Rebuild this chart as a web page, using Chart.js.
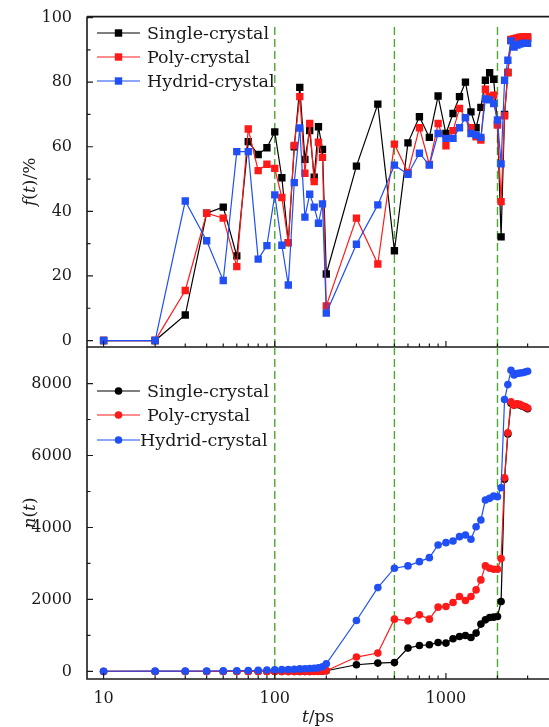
<!DOCTYPE html>
<html>
<head>
<meta charset="utf-8">
<script src="https://cdn.jsdelivr.net/npm/chart.js@4"></script>
<style>
html, body { margin: 0; padding: 0; background: #fff; }
#wrap { position: relative; width: 549px; height: 727px; }
canvas { position: absolute; left: 0; top: 0; }
</style>
</head>
<body>
<div id="wrap">
    <canvas id="topChart" width="549" height="727"></canvas>
    <canvas id="bottomChart" width="549" height="727"></canvas>
</div>
<script>
// ---- data ----
const times = [10, 20, 30, 40, 50, 60, 70, 80, 90, 100,
    110, 120, 130, 140, 150, 160, 170, 180, 190, 200,
    300, 400, 500, 600, 700, 800, 900, 1000,
    1100, 1200, 1300, 1400, 1500, 1600, 1700, 1800, 1900, 2000,
    2100, 2200, 2300, 2400, 2500, 2600, 2700, 2800, 2900, 3000];

// f(t) / %
const fSingle = [0, 0, 7.9, 39.4, 41.3, 26.2, 61.6, 57.6, 59.7, 64.6,
    50.4, 30.3, 60.0, 78.4, 56.1, 65.0, 50.6, 66.2, 59.2, 20.6,
    54.0, 73.2, 27.8, 61.2, 69.3, 62.9, 75.7, 64.1,
    70.3, 75.5, 80.0, 70.8, 65.9, 72.2, 80.6, 82.9, 80.9, 67.0,
    32.1, 70.0, 83.0, 93.0, 93.0, 93.2, 93.4, 93.5, 93.6, 93.6];
const fPoly = [0, 0, 15.5, 39.4, 37.9, 22.9, 65.5, 52.6, 54.6, 53.3,
    44.3, 30.3, 60.4, 75.5, 51.8, 67.2, 49.2, 61.4, 56.7, 10.7,
    37.9, 23.7, 60.8, 52.0, 65.9, 54.5, 67.2, 60.3,
    65.0, 71.9, 69.0, 65.9, 63.1, 62.1, 77.8, 75.5, 76.0, 66.7,
    43.0, 69.6, 83.0, 93.2, 93.5, 93.7, 93.9, 94.0, 94.1, 94.1];
const fHybrid = [0, 0, 43.2, 30.9, 18.6, 58.5, 58.5, 25.2, 29.4, 45.1,
    29.5, 17.2, 48.9, 65.8, 38.2, 45.3, 41.3, 36.3, 42.3, 8.5,
    29.8, 42.0, 54.3, 51.5, 58.0, 54.3, 64.1, 62.6,
    62.6, 65.9, 69.0, 64.1, 63.6, 62.9, 74.8, 74.5, 73.4, 68.3,
    54.7, 80.6, 86.8, 92.8, 90.9, 91.5, 91.8, 92.0, 92.0, 92.0];

// n(t)
const nSingle = [0, 0, 0, 0, 0, 0, 0, 0, 0, 0,
    0, 0, 0, 0, 0, 0, 5, 5, 10, 20,
    186, 232, 250, 649, 721, 740, 805, 787,
    907, 971, 999, 943, 1065, 1315, 1434, 1498, 1509, 1526,
    1942, 5340, 6600, 7450, 7400, 7420, 7400, 7370, 7340, 7300];
const nPoly = [0, 0, 0, 0, 0, 0, 0, 0, 0, 0,
    0, 0, 0, 0, 0, 0, 0, 0, 5, 20,
    400, 510, 1453, 1406, 1573, 1453, 1786, 1803,
    1914, 2081, 1970, 2081, 2266, 2544, 2932, 2868, 2840, 2840,
    3135, 5381, 6630, 7490, 7400, 7440, 7420, 7380, 7360, 7320];
const nHybrid = [5, 8, 10, 12, 15, 20, 25, 30, 40, 45,
    50, 55, 60, 70, 75, 80, 90, 100, 130, 213,
    1415, 2330, 2868, 2932, 3051, 3162, 3514, 3578,
    3625, 3745, 3792, 3672, 4022, 4208, 4763, 4810, 4874, 4855,
    5104, 7556, 7970, 8370, 8240, 8280, 8290, 8300, 8320, 8340];

const seriesNames = ['Single-crystal', 'Poly-crystal', 'Hydrid-crystal'];
const seriesColors = ['#000000', '#ff1a1a', '#1f4ff5'];

const xMajorTicks = [10, 100, 1000];
const xMinorTicks = [20, 30, 40, 50, 60, 70, 80, 90, 200, 300, 400, 500, 600, 700, 800, 900, 2000, 3000];
const fMajorTicks = [0, 20, 40, 60, 80, 100];
const fMinorTicks = [10, 30, 50, 70, 90];
const nMajorTicks = [0, 2000, 4000, 6000, 8000];
const nMinorTicks = [1000, 3000, 5000, 7000];
const markTimes = [100, 500, 2000];

const FONT = "'DejaVu Serif', serif";
const AXIS_COLOR = '#1a1a1a';

// draw text made of upright / italic pieces, centred on (0,0)
function drawRichText(ctx, parts, size) {
    let total = 0;
    parts.forEach(p => {
        ctx.font = (p[1] ? 'italic ' : '') + size + 'px ' + FONT;
        total += ctx.measureText(p[0]).width;
    });
    let x = -total / 2;
    ctx.textBaseline = 'middle';
    ctx.textAlign = 'left';
    parts.forEach(p => {
        ctx.font = (p[1] ? 'italic ' : '') + size + 'px ' + FONT;
        ctx.fillText(p[0], x, 0);
        x += ctx.measureText(p[0]).width;
    });
}

// green dashed markers at 100, 500, 2000 ps
const markLinePlugin = {
    id: 'markLines',
    beforeDatasetsDraw(chart, args, opts) {
        const ctx = chart.ctx;
        const area = chart.chartArea;
        const xs = chart.scales.x;
        ctx.save();
        ctx.strokeStyle = '#4ea832';
        ctx.lineWidth = 1.4;
        ctx.setLineDash([8, 4]);
        markTimes.forEach(t => {
            const x = xs.getPixelForValue(t);
            ctx.beginPath();
            ctx.moveTo(x, area.bottom);
            ctx.lineTo(x, area.top + opts.startGap);
            ctx.stroke();
        });
        ctx.restore();
    }
};

// frame, inward ticks, legend and axis titles
const framePlugin = {
    id: 'frame',
    afterDraw(chart, args, opts) {
        const ctx = chart.ctx;
        const area = chart.chartArea;
        const xs = chart.scales.x;
        const ys = chart.scales.y;
        ctx.save();

        ctx.strokeStyle = AXIS_COLOR;
        ctx.lineWidth = 1.2;
        ctx.beginPath();
        opts.yMajor.forEach(v => {
            const y = ys.getPixelForValue(v);
            ctx.moveTo(area.left, y); ctx.lineTo(area.left + 6, y);
        });
        opts.yMinor.forEach(v => {
            const y = ys.getPixelForValue(v);
            ctx.moveTo(area.left, y); ctx.lineTo(area.left + 3.5, y);
        });
        xMajorTicks.forEach(v => {
            const x = xs.getPixelForValue(v);
            ctx.moveTo(x, area.bottom); ctx.lineTo(x, area.bottom - 6);
        });
        xMinorTicks.forEach(v => {
            const x = xs.getPixelForValue(v);
            ctx.moveTo(x, area.bottom); ctx.lineTo(x, area.bottom - 3.5);
        });
        ctx.stroke();

        ctx.lineWidth = 1.6;
        ctx.beginPath();
        ctx.moveTo(area.left, area.top);
        ctx.lineTo(area.left, area.bottom);
        ctx.lineTo(area.right, area.bottom);
        if (opts.drawTop) {
            ctx.moveTo(area.left, area.top);
            ctx.lineTo(area.right, area.top);
        }
        ctx.stroke();

        // legend
        opts.legendRows.forEach((row, i) => {
            const color = seriesColors[i];
            ctx.strokeStyle = color;
            ctx.fillStyle = color;
            ctx.lineWidth = 1.2;
            ctx.beginPath();
            ctx.moveTo(97, row.y); ctx.lineTo(140, row.y);
            ctx.stroke();
            if (opts.marker === 'rect') {
                ctx.fillRect(118.5 - 3.7, row.y - 3.7, 7.4, 7.4);
            } else {
                ctx.beginPath();
                ctx.arc(118.5, row.y, 3.8, 0, Math.PI * 2);
                ctx.fill();
            }
            ctx.fillStyle = '#1a1a1a';
            ctx.font = '17.5px ' + FONT;
            ctx.textAlign = 'left';
            ctx.textBaseline = 'middle';
            ctx.fillText(seriesNames[i], row.x, row.y + 1);
        });

        // y title
        ctx.fillStyle = '#1a1a1a';
        ctx.save();
        ctx.translate(31, (area.top + area.bottom) / 2);
        ctx.rotate(-Math.PI / 2);
        drawRichText(ctx, opts.yTitle, 17);
        ctx.restore();

        // x title
        if (opts.xTitle) {
            ctx.save();
            ctx.translate((area.left + area.right) / 2, 718);
            drawRichText(ctx, opts.xTitle, 17);
            ctx.restore();
        }
        ctx.restore();
    }
};

function buildDatasets(values, marker, radius) {
    return values.map((vals, i) => ({
        label: seriesNames[i],
        data: times.map((t, k) => ({ x: t, y: vals[k] })),
        borderColor: seriesColors[i],
        backgroundColor: seriesColors[i],
        pointBackgroundColor: seriesColors[i],
        pointBorderWidth: 0,
        pointStyle: marker,
        pointRadius: radius,
        borderWidth: 1.2,
        tension: 0,
        order: 3 - i
    }));
}

function makeChart(canvasId, cfg) {
    return new Chart(document.getElementById(canvasId), {
        type: 'line',
        data: { datasets: buildDatasets(cfg.values, cfg.marker, cfg.radius) },
        options: {
            responsive: false,
            animation: false,
            devicePixelRatio: 1,
            events: [],
            layout: { padding: cfg.padding, autoPadding: false },
            scales: {
                x: {
                    type: 'logarithmic',
                    min: 8,
                    max: 4000,
                    grid: { display: false },
                    border: { display: false },
                    afterFit: s => { s.height = cfg.xHeight; },
                    afterBuildTicks: s => { s.ticks = xMajorTicks.map(v => ({ value: v })); },
                    ticks: {
                        display: cfg.showX,
                        autoSkip: false,
                        maxRotation: 0,
                        padding: 2,
                        color: '#1a1a1a',
                        font: { family: FONT, size: 16 },
                        callback: v => String(v)
                    }
                },
                y: {
                    min: cfg.yMin,
                    max: cfg.yMax,
                    grid: { display: false },
                    border: { display: false },
                    afterFit: s => { s.width = 87; },
                    afterBuildTicks: s => { s.ticks = cfg.yMajor.map(v => ({ value: v })); },
                    ticks: {
                        padding: 7,
                        color: '#1a1a1a',
                        font: { family: FONT, size: 16 },
                        callback: v => String(v)
                    }
                }
            },
            plugins: {
                legend: { display: false },
                tooltip: { enabled: false },
                markLines: { startGap: cfg.startGap },
                frame: {
                    yMajor: cfg.yMajor,
                    yMinor: cfg.yMinor,
                    drawTop: cfg.drawTop,
                    marker: cfg.marker,
                    legendRows: cfg.legendRows,
                    yTitle: cfg.yTitle,
                    xTitle: cfg.xTitle
                }
            }
        },
        plugins: [markLinePlugin, framePlugin]
    });
}

makeChart('topChart', {
    values: [fSingle, fPoly, fHybrid],
    marker: 'rect',
    radius: 5.2,
    padding: { top: 15, bottom: 380, left: 0, right: 0 },
    xHeight: 0,
    showX: false,
    yMin: -2,
    yMax: 100.3,
    yMajor: fMajorTicks,
    yMinor: fMinorTicks,
    drawTop: true,
    startGap: 7,
    legendRows: [{ x: 147, y: 33 }, { x: 147, y: 57 }, { x: 147, y: 81 }],
    yTitle: [['f', true], ['(', false], ['t', true], [')/%', false]],
    xTitle: null
});

makeChart('bottomChart', {
    values: [nSingle, nPoly, nHybrid],
    marker: 'circle',
    radius: 3.8,
    padding: { top: 347, bottom: 0, left: 0, right: 0 },
    xHeight: 48,
    showX: true,
    yMin: -210,
    yMax: 9015,
    yMajor: nMajorTicks,
    yMinor: nMinorTicks,
    drawTop: false,
    startGap: 0,
    legendRows: [{ x: 147, y: 391 }, { x: 147, y: 415 }, { x: 140, y: 440 }],
    yTitle: [['n', true], ['(', false], ['t', true], [')', false]],
    xTitle: [['t', true], ['/ps', false]]
});
</script>
</body>
</html>
